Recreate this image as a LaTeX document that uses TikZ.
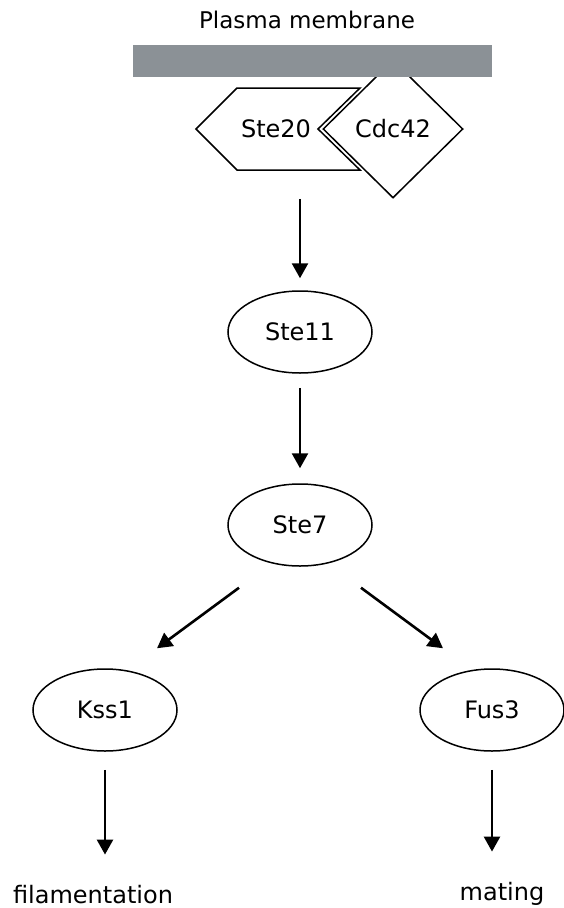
\documentclass[tikz,border=0pt]{standalone}
\usepackage{fontspec}
\setmainfont{DejaVu Sans}
\usetikzlibrary{arrows.meta,positioning,shapes.geometric,calc}
\definecolor{membrane}{RGB}{139,145,150}

\begin{document}
\begin{tikzpicture}[
		x=1pt, y=-1pt,
		every node/.style={font=\fontsize{24}{28}\selectfont},
		kinase/.style={ellipse, draw, line width=1.5pt, minimum width=144pt, minimum height=82pt, inner sep=0pt},
		gtpase/.style={diamond, draw, fill=white, line width=1.5pt, minimum width=140pt, minimum height=138pt, inner sep=0pt},
		outcome/.style={inner sep=0pt, anchor=base},
		arrow/.style={line width=2.6pt, -{Triangle[length=15pt,width=16pt]}}
	]
	\useasboundingbox (0,0) rectangle (563,908);

	% Membrane complex
	\node (cdc42) [gtpase] at (393,129) {Cdc42};
	\draw [line width=1.5pt, fill=white] (196,129) -- (237,88) -- (360,88) -- (318,129) -- (360,170) -- (237,170) -- cycle;
	\node (ste20) at (276,129) {Ste20};
	\fill [membrane] (133,45) rectangle (492,77);
	\node (membrane) [outcome, font=\fontsize{23}{27}\selectfont] at (307,28) {Plasma membrane};

	% Nodes
	\node (ste11) [kinase] at (300,332) {Ste11};
	\node (ste7) [kinase] at (300,525) {Ste7};
	\node (kss1) [kinase] at (105,710) {Kss1};
	\node (fus3) [kinase] at (492,710) {Fus3};

	\node (filam) [outcome] at (93,903) {filamentation};
	\node (mating) [outcome] at (502,900) {mating};

	% Connections
	\draw [arrow] (ste11.north |- cdc42.south) -- ([yshift=12pt]ste11.north);
	\draw [arrow] ([yshift=-14pt]ste11.south) -- ([yshift=15pt]ste7.north);
	\draw [arrow] ($(ste7.south)+(-61,21)$) -- ($(kss1.north)+(52,-20)$);
	\draw [arrow] ($(ste7.south)+(61,21)$) -- ($(fus3.north)+(-49,-20)$);
	\draw [arrow, shorten >=30pt] ([yshift=-18pt]kss1.south) -- (kss1.south |- filam.north);
	\draw [arrow, shorten >=30pt] ([yshift=-18pt]fus3.south) -- (fus3.south |- mating.north);

\end{tikzpicture}
\end{document}
